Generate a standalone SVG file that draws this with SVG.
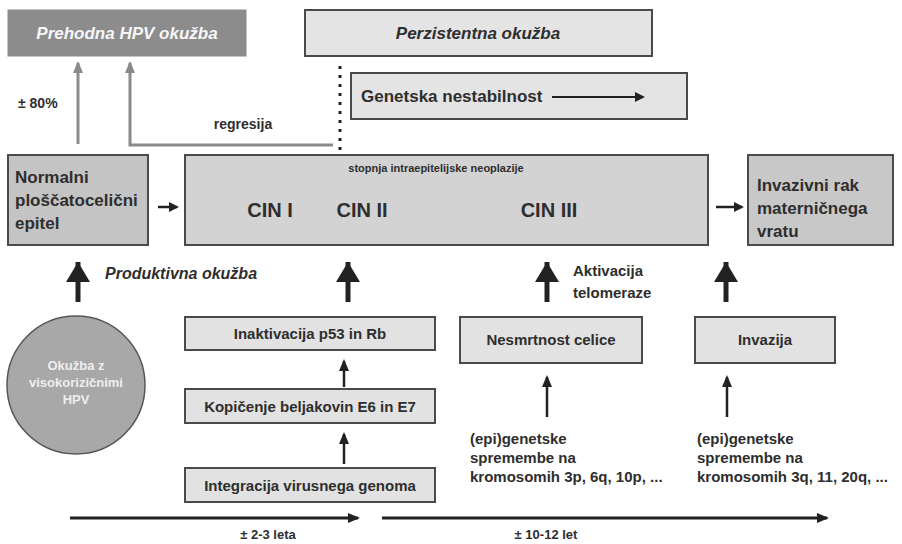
<svg xmlns="http://www.w3.org/2000/svg" width="902" height="544" viewBox="0 0 902 544">
<style>
.t{font-family:"Liberation Sans",Arial,sans-serif;font-weight:bold;fill:#2e2e2e}
.box{stroke:#4a4a4a;stroke-width:2}
.thin{stroke:#222;stroke-width:2.5;fill:none}
.gray{stroke:#8a8a8a;stroke-width:3;fill:none}
.thick{stroke:#222;stroke-width:5;fill:none}
</style>
<defs>
<marker id="ah" markerWidth="10" markerHeight="10" refX="8" refY="5" orient="auto" markerUnits="userSpaceOnUse"><path d="M0,0 L10,5 L0,10 Z" fill="#222"/></marker>
<marker id="ahs" markerWidth="12" markerHeight="12" refX="10" refY="6" orient="auto" markerUnits="userSpaceOnUse"><path d="M0,1 L12,6 L0,11 Z" fill="#222"/></marker>
<marker id="ahg" markerWidth="12" markerHeight="12" refX="10" refY="6" orient="auto" markerUnits="userSpaceOnUse"><path d="M0,1 L12,6 L0,11 Z" fill="#8a8a8a"/></marker>
<marker id="ahb" markerWidth="22" markerHeight="24" refX="20" refY="12" orient="auto" markerUnits="userSpaceOnUse"><path d="M0,0 L20,12 L0,24 Z" fill="#222"/></marker>
</defs>
<rect width="902" height="544" fill="#ffffff"/>

<g id="prehodna">
<rect x="8" y="10" width="238" height="46" fill="#8c8c8c" stroke="#8c8c8c"/>
<text class="t" x="127" y="39" text-anchor="middle" font-size="17" font-style="italic" style="fill:#f6f6f6">Prehodna HPV okužba</text>
</g>
<g id="perzistentna">
<rect class="box" x="305" y="10" width="347" height="46" fill="#e4e4e4"/>
<text class="t" x="478" y="39" text-anchor="middle" font-size="17" font-style="italic">Perzistentna okužba</text>
</g>
<g id="genetska">
<rect class="box" x="351" y="73" width="336" height="46" fill="#e4e4e4"/>
<text class="t" x="361" y="102" font-size="17">Genetska nestabilnost</text>
<line class="thin" x1="552" y1="97" x2="643" y2="97" style="stroke-width:1.8" marker-end="url(#ah)"/>
</g>
<g id="normalni">
<rect class="box" x="8" y="155" width="140" height="90" fill="#c4c4c4"/>
<text class="t" x="15" y="183" font-size="17">Normalni</text>
<text class="t" x="15" y="206" font-size="17">ploščatocelični</text>
<text class="t" x="15" y="229" font-size="17">epitel</text>
</g>
<g id="cin">
<rect class="box" x="185" y="155" width="523" height="90" fill="#d3d3d3"/>
<text class="t" x="436" y="172" text-anchor="middle" font-size="11">stopnja intraepitelijske neoplazije</text>
<text class="t" x="270" y="217" text-anchor="middle" font-size="20">CIN I</text>
<text class="t" x="362" y="217" text-anchor="middle" font-size="20">CIN II</text>
<text class="t" x="549" y="217" text-anchor="middle" font-size="20">CIN III</text>
</g>
<g id="invazivni">
<rect class="box" x="748" y="155" width="145" height="90" fill="#c8c8c8"/>
<text class="t" x="757" y="191" font-size="17">Invazivni rak</text>
<text class="t" x="757" y="214" font-size="17">materničnega</text>
<text class="t" x="757" y="237" font-size="17">vratu</text>
</g>
<g id="okuzba">
<circle cx="76" cy="385" r="69" fill="#a8a8a8" stroke="#555" stroke-width="1.5"/>
<text class="t" x="76" y="370" text-anchor="middle" font-size="13" style="fill:#eeeeee">Okužba z</text>
<text class="t" x="76" y="387" text-anchor="middle" font-size="13" style="fill:#eeeeee">visokorizičnimi</text>
<text class="t" x="76" y="404" text-anchor="middle" font-size="13" style="fill:#eeeeee">HPV</text>
</g>
<g id="inaktivacija">
<rect class="box" x="185" y="317" width="250" height="33" fill="#e2e2e2"/>
<text class="t" x="310" y="339" text-anchor="middle" font-size="15">Inaktivacija p53 in Rb</text>
</g>
<g id="kopicenje">
<rect class="box" x="185" y="389" width="250" height="34" fill="#e2e2e2"/>
<text class="t" x="310" y="412" text-anchor="middle" font-size="15">Kopičenje beljakovin E6 in E7</text>
</g>
<g id="integracija">
<rect class="box" x="185" y="468" width="250" height="34" fill="#e2e2e2"/>
<text class="t" x="310" y="491" text-anchor="middle" font-size="15">Integracija virusnega genoma</text>
</g>
<g id="nesmrtnost">
<rect class="box" x="460" y="317" width="182" height="46" fill="#e2e2e2"/>
<text class="t" x="551" y="345" text-anchor="middle" font-size="15">Nesmrtnost celice</text>
</g>
<g id="invazija">
<rect class="box" x="695" y="317" width="140" height="46" fill="#e2e2e2"/>
<text class="t" x="765" y="345" text-anchor="middle" font-size="15">Invazija</text>
</g>

<g id="labels">
<text class="t" x="18" y="108" font-size="14">± 80%</text>
<text class="t" x="243" y="129" text-anchor="middle" font-size="14">regresija</text>
<text class="t" x="105" y="279" font-size="16" font-style="italic">Produktivna okužba</text>
<text class="t" x="573" y="276" font-size="15">Aktivacija</text>
<text class="t" x="573" y="298" font-size="15">telomeraze</text>
<text class="t" x="470" y="444" font-size="15">(epi)genetske</text>
<text class="t" x="470" y="463" font-size="15">spremembe na</text>
<text class="t" x="470" y="482" font-size="15">kromosomih 3p, 6q, 10p, ...</text>
<text class="t" x="697" y="444" font-size="15">(epi)genetske</text>
<text class="t" x="697" y="463" font-size="15">spremembe na</text>
<text class="t" x="697" y="482" font-size="15">kromosomih 3q, 11, 20q, ...</text>
<text class="t" x="268" y="539" text-anchor="middle" font-size="13">± 2-3 leta</text>
<text class="t" x="546" y="539" text-anchor="middle" font-size="13">± 10-12 let</text>
</g>

<g id="connectors">
<line class="gray" x1="78" y1="144" x2="78" y2="63" marker-end="url(#ahg)"/>
<polyline class="gray" points="333,145 130,145 130,63" marker-end="url(#ahg)"/>
<line x1="340" y1="66" x2="340" y2="152" stroke="#222" stroke-width="3" stroke-dasharray="3,6"/>
<line class="thin" x1="158" y1="207" x2="177" y2="207" marker-end="url(#ah)"/>
<line class="thin" x1="716" y1="207" x2="742" y2="207" marker-end="url(#ah)"/>
<line class="thick" x1="78" y1="302" x2="78" y2="262" marker-end="url(#ahb)"/>
<line class="thick" x1="348" y1="302" x2="348" y2="262" marker-end="url(#ahb)"/>
<line class="thick" x1="547" y1="302" x2="547" y2="262" marker-end="url(#ahb)"/>
<line class="thick" x1="726" y1="302" x2="726" y2="262" marker-end="url(#ahb)"/>
<line class="thin" x1="344" y1="387" x2="344" y2="361" marker-end="url(#ahs)"/>
<line class="thin" x1="344" y1="464" x2="344" y2="434" marker-end="url(#ahs)"/>
<line class="thin" x1="547" y1="417" x2="547" y2="377" marker-end="url(#ahs)"/>
<line class="thin" x1="727" y1="417" x2="727" y2="377" marker-end="url(#ahs)"/>
<line class="thin" x1="70" y1="518" x2="358" y2="518" style="stroke-width:3" marker-end="url(#ahs)"/>
<line class="thin" x1="382" y1="518" x2="827" y2="518" style="stroke-width:3" marker-end="url(#ahs)"/>
</g>
</svg>
